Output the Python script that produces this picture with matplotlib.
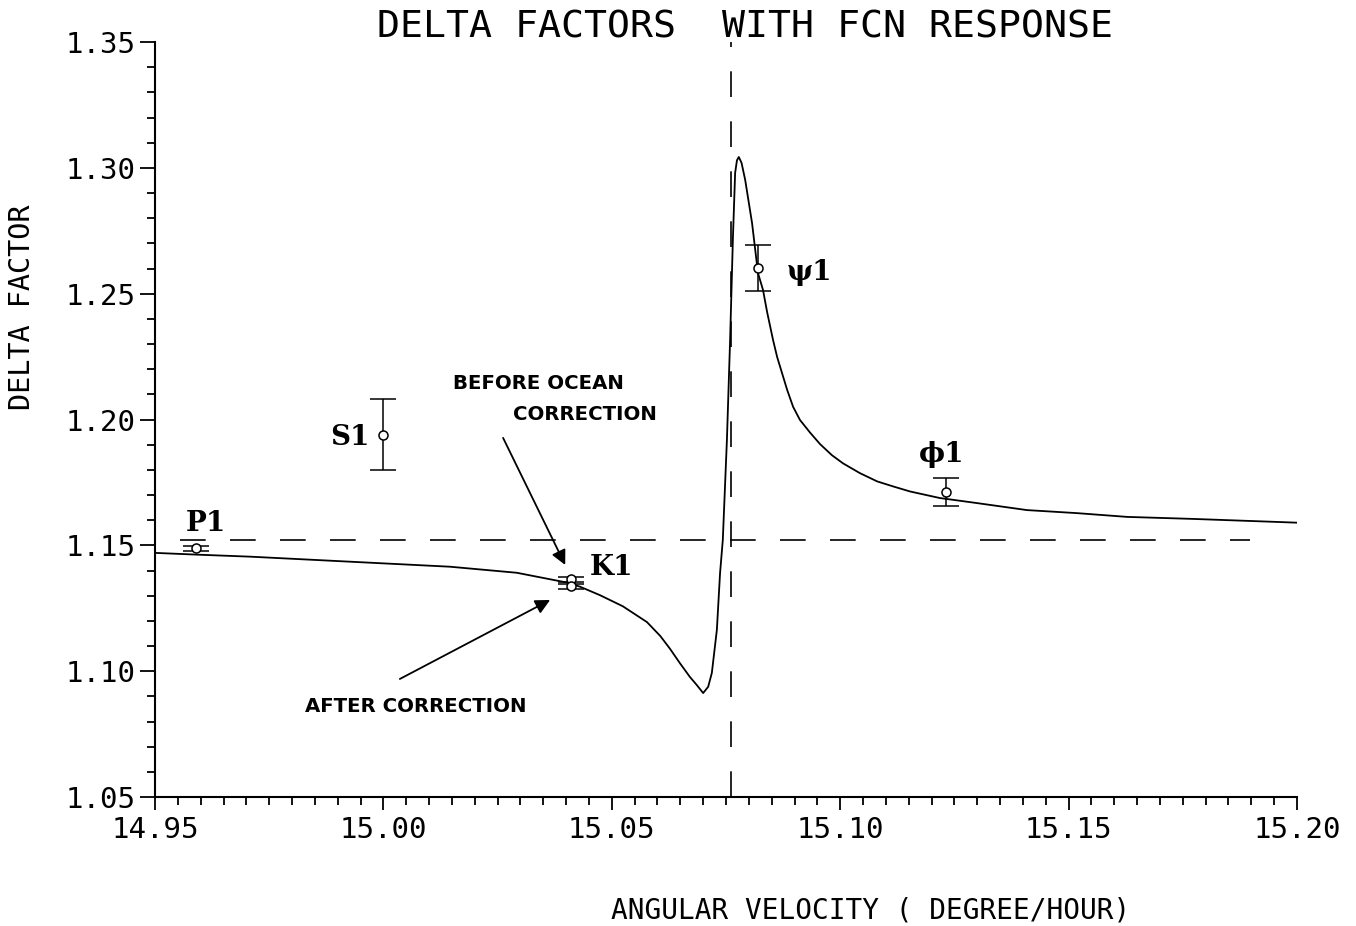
import numpy as np
import matplotlib
matplotlib.use('Agg')
import matplotlib.pyplot as plt
from matplotlib.ticker import MultipleLocator, FormatStrFormatter

plt.rcParams['lines.scale_dashes'] = False

# FCN response curve
curve_x = [14.9500, 14.9592, 14.9708, 14.9927, 15.0146, 15.0292, 15.0402, 15.0430,
           15.0474, 15.0524, 15.0577, 15.0606, 15.0627, 15.0649, 15.0671, 15.0686,
           15.0700, 15.0711, 15.0719, 15.0730, 15.0737, 15.0743, 15.0752, 15.0759,
           15.0765, 15.0770, 15.0774, 15.0778, 15.0784, 15.0792, 15.0807, 15.0820,
           15.0831, 15.0840, 15.0853, 15.0862, 15.0884, 15.0897, 15.0912, 15.0934,
           15.0956, 15.0982, 15.1006, 15.1043, 15.1081, 15.1116, 15.1153, 15.1218,
           15.1299, 15.1409, 15.1518, 15.1628, 15.1772, 15.1956, 15.2000]
curve_y = [1.1470, 1.1463, 1.1455, 1.1435, 1.1415, 1.1391, 1.1352, 1.1336,
           1.1302, 1.1258, 1.1195, 1.1140, 1.1090, 1.1032, 1.0977, 1.0945,
           1.0913, 1.0938, 1.0993, 1.1164, 1.1390, 1.1521, 1.1919, 1.2316,
           1.2713, 1.2980, 1.3030, 1.3043, 1.3020, 1.2952, 1.2781, 1.2582,
           1.2515, 1.2427, 1.2316, 1.2248, 1.2117, 1.2050, 1.1998, 1.1948,
           1.1902, 1.1858, 1.1826, 1.1787, 1.1754, 1.1734, 1.1714, 1.1688,
           1.1668, 1.1640, 1.1628, 1.1613, 1.1605, 1.1593, 1.1590]

# observed delta factors (K1 before / after ocean correction)
obs_x = [14.9589, 15.0000, 15.0411, 15.0411, 15.0821, 15.1232]
obs_y = [1.1489, 1.1940, 1.1365, 1.1338, 1.2602, 1.1712]
obs_err = [0.0010, 0.0141, 0.0010, 0.0010, 0.0091, 0.0056]

wave_names = ['P1', 'S1', 'K1', '\u03c81', '\u03d51']
name_x = [14.9612, 14.9927, 15.0500, 15.0932, 15.1223]
name_y = [1.1585, 1.1930, 1.1410, 1.2586, 1.1859]

delta_ref = 1.1521
fcn_freq = 15.0761

fig = plt.figure(figsize=(13.56, 9.26), dpi=100)
ax = fig.add_axes([155/1356, 129/926, 1142/1356, 755/926])

ax.plot(curve_x, curve_y, color='black', lw=1.3)
ax.errorbar(obs_x, obs_y, yerr=obs_err, fmt='o', mfc='white', mec='black', ms=6.5,
            mew=1.1, ecolor='black', elinewidth=1.1, capsize=9.5, capthick=1.1, zorder=5)

ax.plot([14.9555, 15.1898], [delta_ref, delta_ref], color='black', lw=1.2,
        dashes=(18.5, 17.5))
ax.plot([fcn_freq, fcn_freq], [1.05, 1.35], color='black', lw=1.2,
        dashes=(18.5, 17.5), dash_capstyle='butt')

for name, tx, ty in zip(wave_names, name_x, name_y):
    ax.text(tx, ty, name, ha='center', va='center', fontsize=20,
            fontweight='bold', family='DejaVu Serif')

ann = dict(fontsize=14.2, fontweight='bold', family='DejaVu Sans', va='center')
ax.text(15.0152, 1.2145, 'BEFORE OCEAN', **ann)
ax.text(15.0284, 1.2018, 'CORRECTION', **ann)
ax.text(14.9828, 1.0858, 'AFTER CORRECTION', **ann)
arr = dict(arrowstyle='-|>', color='black', lw=1.3, mutation_scale=22,
           shrinkA=0, shrinkB=0)
ax.annotate('', xy=(15.0398, 1.1422), xytext=(15.0262, 1.1927), arrowprops=arr)
ax.annotate('', xy=(15.0365, 1.1283), xytext=(15.0036, 1.0969), arrowprops=arr)

ax.set_xlim(14.95, 15.20)
ax.set_ylim(1.05, 1.35)
ax.spines['top'].set_visible(False)
ax.spines['right'].set_visible(False)
for s in ['left', 'bottom']:
    ax.spines[s].set_linewidth(1.5)

ax.xaxis.set_major_locator(MultipleLocator(0.05))
ax.xaxis.set_minor_locator(MultipleLocator(0.005))
ax.yaxis.set_major_locator(MultipleLocator(0.05))
ax.yaxis.set_minor_locator(MultipleLocator(0.01))
ax.xaxis.set_major_formatter(FormatStrFormatter('%.2f'))
ax.yaxis.set_major_formatter(FormatStrFormatter('%.2f'))
ax.tick_params(axis='x', which='major', length=9.5, width=1.3, pad=4, direction='out')
ax.tick_params(axis='x', which='minor', length=5.5, width=1.3, direction='out')
ax.tick_params(axis='y', which='major', length=11, width=1.3, pad=3, direction='out')
ax.tick_params(axis='y', which='minor', length=5.5, width=1.3, direction='out')
for lab in ax.get_xticklabels() + ax.get_yticklabels():
    lab.set_family('DejaVu Sans Mono')
    lab.set_fontsize(21)

fig.text(745/1356, 1 - 28/926, 'DELTA FACTORS  WITH FCN RESPONSE', ha='center',
         va='center', fontsize=27.5, family='DejaVu Sans Mono')
fig.text(871/1356, 1 - 910/926, 'ANGULAR VELOCITY ( DEGREE/HOUR)', ha='center',
         va='center', fontsize=20, family='DejaVu Sans Mono')
fig.text(22/1356, 1 - 307/926, 'DELTA FACTOR', ha='center', va='center',
         rotation=90, fontsize=20.5, family='DejaVu Sans Mono')

fig.savefig('out.png', dpi=100)
